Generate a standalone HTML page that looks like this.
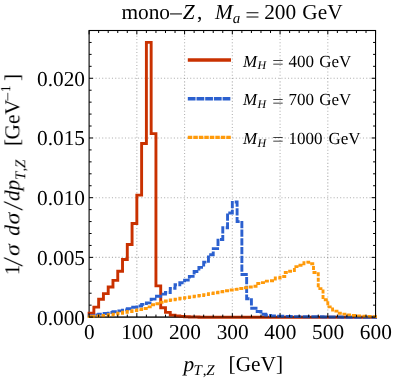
<!DOCTYPE html>
<html><head><meta charset="utf-8"><title>mono-Z</title>
<style>html,body{margin:0;padding:0;background:#fff;}body{width:393px;height:381px;overflow:hidden;font-family:"Liberation Serif",serif;}svg{display:block;}</style>
</head><body>
<svg width="393" height="381" viewBox="0 0 393 381">
<rect width="393" height="381" fill="#fff"/>
<g stroke="#666" stroke-opacity="0.5" stroke-width="1.08" stroke-dasharray="1.09 2.17" fill="none">
<path d="M136.84 317.10V30.50"/>
<path d="M184.58 317.10V30.50"/>
<path d="M232.33 317.10V30.50"/>
<path d="M280.07 317.10V30.50"/>
<path d="M327.81 317.10V30.50"/>
<path d="M89.10 257.39H375.55"/>
<path d="M89.10 197.68H375.55"/>
<path d="M89.10 137.98H375.55"/>
<path d="M89.10 78.27H375.55"/>
</g>
<rect x="89.10" y="30.50" width="286.45" height="286.60" stroke="#000" stroke-width="1.1" fill="none"/>
<g fill="none" stroke-width="2.90" stroke-linejoin="miter" stroke-linecap="square">
<path d="M89.10 313.30L93.87 313.30L93.87 307.10L98.65 307.10L98.65 299.27L103.42 299.27L103.42 293.66L108.20 293.66L108.20 286.97L112.97 286.97L112.97 280.40L117.75 280.40L117.75 271.21L122.52 271.21L122.52 259.50L127.29 259.50L127.29 244.46L132.07 244.46L132.07 223.56L136.84 223.56L136.84 195.14L141.62 195.14L141.62 143.43L146.39 143.43L146.39 42.40L151.16 42.40L151.16 133.64L155.94 133.64L155.94 285.89L160.71 285.89L160.71 307.75L165.49 307.75L165.49 312.40L170.26 312.40L170.26 315.15L175.04 315.15L175.04 315.87L179.81 315.87L179.81 316.34L184.58 316.34L184.58 316.70L189.36 316.70L189.36 316.94L194.13 316.94L194.13 317.06L198.91 317.06L198.91 317.18L203.68 317.18L203.68 317.30L208.45 317.30L208.45 317.30L213.23 317.30L213.23 317.30L218.00 317.30L218.00 317.30L222.78 317.30L222.78 317.30L227.55 317.30L227.55 317.30L232.33 317.30L232.33 317.30L237.10 317.30L237.10 317.30L241.87 317.30L241.87 317.30L246.65 317.30L246.65 317.30L251.42 317.30L251.42 317.30L256.20 317.30L256.20 317.30L260.97 317.30L260.97 317.30L265.74 317.30L265.74 317.30L270.52 317.30L270.52 317.30L275.29 317.30L275.29 317.30L280.07 317.30L280.07 317.30L284.84 317.30L284.84 317.30L289.62 317.30L289.62 317.30L294.39 317.30L294.39 317.30L299.16 317.30L299.16 317.30L303.94 317.30L303.94 317.30L308.71 317.30L308.71 317.30L313.49 317.30L313.49 317.30L318.26 317.30L318.26 317.30L323.03 317.30L323.03 317.30L327.81 317.30L327.81 317.30L332.58 317.30L332.58 317.30L337.36 317.30L337.36 317.30L342.13 317.30L342.13 317.30L346.91 317.30L346.91 317.30L351.68 317.30L351.68 317.30L356.45 317.30L356.45 317.30L361.23 317.30L361.23 317.30L366.00 317.30L366.00 317.30L370.78 317.30L370.78 317.30L375.55 317.30" stroke="#c93100"/>
<path d="M89.10 315.87L93.87 315.87L93.87 314.91L98.65 314.91L98.65 314.08L103.42 314.08L103.42 313.48L108.20 313.48L108.20 312.52L112.97 312.52L112.97 311.69L117.75 311.69L117.75 310.85L122.52 310.85L122.52 309.90L127.29 309.90L127.29 308.82L132.07 308.82L132.07 307.27L136.84 307.27L136.84 305.96L141.62 305.96L141.62 304.40L146.39 304.40L146.39 302.85L151.16 302.85L151.16 299.15L155.94 299.15L155.94 296.28L160.71 296.28L160.71 294.13L165.49 294.13L165.49 292.46L170.26 292.46L170.26 288.40L175.04 288.40L175.04 284.82L179.81 284.82L179.81 282.79L184.58 282.79L184.58 280.16L189.36 280.16L189.36 276.34L194.13 276.34L194.13 271.44L198.91 271.44L198.91 267.38L203.68 267.38L203.68 262.13L208.45 262.13L208.45 254.73L213.23 254.73L213.23 248.64L218.00 248.64L218.00 239.44L222.78 239.44L222.78 227.74L227.55 227.74L227.55 212.93L232.33 212.93L232.33 201.94L237.10 201.94L237.10 221.65L241.87 221.65L241.87 274.43L246.65 274.43L246.65 298.79L251.42 298.79L251.42 308.22L256.20 308.22L256.20 311.45L260.97 311.45L260.97 314.20L265.74 314.20L265.74 315.27L270.52 315.27L270.52 315.87L275.29 315.87L275.29 316.11L280.07 316.11L280.07 316.23L284.84 316.23L284.84 316.34L289.62 316.34L289.62 316.46L294.39 316.46L294.39 316.58L299.16 316.58L299.16 316.58L303.94 316.58L303.94 316.70L308.71 316.70L308.71 316.70L313.49 316.70L313.49 316.82L318.26 316.82L318.26 316.82L323.03 316.82L323.03 316.94L327.81 316.94L327.81 316.94L332.58 316.94L332.58 317.06L337.36 317.06L337.36 317.06L342.13 317.06L342.13 317.18L346.91 317.18L346.91 317.30L351.68 317.30L351.68 317.30L356.45 317.30L356.45 317.30L361.23 317.30L361.23 317.30L366.00 317.30L366.00 317.30L370.78 317.30L370.78 317.30L375.55 317.30" stroke="#2b60cf" stroke-dasharray="4.35 4.35" stroke-dashoffset="0.00"/>
<path d="M89.10 316.58L93.87 316.58L93.87 316.11L98.65 316.11L98.65 315.75L103.42 315.75L103.42 315.39L108.20 315.39L108.20 314.79L112.97 314.79L112.97 314.08L117.75 314.08L117.75 313.24L122.52 313.24L122.52 312.28L127.29 312.28L127.29 311.45L132.07 311.45L132.07 310.61L136.84 310.61L136.84 309.66L141.62 309.66L141.62 308.46L146.39 308.46L146.39 306.91L151.16 306.91L151.16 304.76L155.94 304.76L155.94 303.69L160.71 303.69L160.71 302.25L165.49 302.25L165.49 300.94L170.26 300.94L170.26 299.87L175.04 299.87L175.04 299.15L179.81 299.15L179.81 298.31L184.58 298.31L184.58 297.60L189.36 297.60L189.36 296.88L194.13 296.88L194.13 296.16L198.91 296.16L198.91 295.57L203.68 295.57L203.68 294.61L208.45 294.61L208.45 293.66L213.23 293.66L213.23 292.70L218.00 292.70L218.00 291.74L222.78 291.74L222.78 290.79L227.55 290.79L227.55 289.95L232.33 289.95L232.33 289.36L237.10 289.36L237.10 288.52L241.87 288.52L241.87 287.68L246.65 287.68L246.65 286.97L251.42 286.97L251.42 286.25L256.20 286.25L256.20 283.51L260.97 283.51L260.97 282.67L265.74 282.67L265.74 281.12L270.52 281.12L270.52 280.76L275.29 280.76L275.29 278.01L280.07 278.01L280.07 276.46L284.84 276.46L284.84 272.52L289.62 272.52L289.62 271.21L294.39 271.21L294.39 266.67L299.16 266.67L299.16 265.23L303.94 265.23L303.94 262.13L308.71 262.13L308.71 263.80L313.49 263.80L313.49 272.52L318.26 272.52L318.26 288.64L323.03 288.64L323.03 299.75L327.81 299.75L327.81 306.91L332.58 306.91L332.58 311.09L337.36 311.09L337.36 313.24L342.13 313.24L342.13 314.08L346.91 314.08L346.91 314.91L351.68 314.91L351.68 315.51L356.45 315.51L356.45 315.87L361.23 315.87L361.23 316.11L366.00 316.11L366.00 316.34L370.78 316.34L370.78 316.58L375.55 316.58" stroke="#ff9a0a" stroke-dasharray="1.1 4.4" stroke-dashoffset="-3.70"/>
<path d="M89.10 316.58h1.1" stroke="#ff9a0a"/>
</g>
<path d="M89.10 317.10H375.55" stroke="#000" stroke-opacity="0.5" stroke-width="1.1" fill="none"/>
<g stroke="#000" stroke-width="1" fill="none">
<path d="M89.10 317.10v-3.90"/>
<path d="M89.10 30.50v3.90"/>
<path d="M98.65 317.10v-2.50"/>
<path d="M98.65 30.50v2.50"/>
<path d="M108.20 317.10v-2.50"/>
<path d="M108.20 30.50v2.50"/>
<path d="M117.75 317.10v-2.50"/>
<path d="M117.75 30.50v2.50"/>
<path d="M127.29 317.10v-2.50"/>
<path d="M127.29 30.50v2.50"/>
<path d="M136.84 317.10v-3.90"/>
<path d="M136.84 30.50v3.90"/>
<path d="M146.39 317.10v-2.50"/>
<path d="M146.39 30.50v2.50"/>
<path d="M155.94 317.10v-2.50"/>
<path d="M155.94 30.50v2.50"/>
<path d="M165.49 317.10v-2.50"/>
<path d="M165.49 30.50v2.50"/>
<path d="M175.04 317.10v-2.50"/>
<path d="M175.04 30.50v2.50"/>
<path d="M184.58 317.10v-3.90"/>
<path d="M184.58 30.50v3.90"/>
<path d="M194.13 317.10v-2.50"/>
<path d="M194.13 30.50v2.50"/>
<path d="M203.68 317.10v-2.50"/>
<path d="M203.68 30.50v2.50"/>
<path d="M213.23 317.10v-2.50"/>
<path d="M213.23 30.50v2.50"/>
<path d="M222.78 317.10v-2.50"/>
<path d="M222.78 30.50v2.50"/>
<path d="M232.33 317.10v-3.90"/>
<path d="M232.33 30.50v3.90"/>
<path d="M241.87 317.10v-2.50"/>
<path d="M241.87 30.50v2.50"/>
<path d="M251.42 317.10v-2.50"/>
<path d="M251.42 30.50v2.50"/>
<path d="M260.97 317.10v-2.50"/>
<path d="M260.97 30.50v2.50"/>
<path d="M270.52 317.10v-2.50"/>
<path d="M270.52 30.50v2.50"/>
<path d="M280.07 317.10v-3.90"/>
<path d="M280.07 30.50v3.90"/>
<path d="M289.62 317.10v-2.50"/>
<path d="M289.62 30.50v2.50"/>
<path d="M299.16 317.10v-2.50"/>
<path d="M299.16 30.50v2.50"/>
<path d="M308.71 317.10v-2.50"/>
<path d="M308.71 30.50v2.50"/>
<path d="M318.26 317.10v-2.50"/>
<path d="M318.26 30.50v2.50"/>
<path d="M327.81 317.10v-3.90"/>
<path d="M327.81 30.50v3.90"/>
<path d="M337.36 317.10v-2.50"/>
<path d="M337.36 30.50v2.50"/>
<path d="M346.91 317.10v-2.50"/>
<path d="M346.91 30.50v2.50"/>
<path d="M356.45 317.10v-2.50"/>
<path d="M356.45 30.50v2.50"/>
<path d="M366.00 317.10v-2.50"/>
<path d="M366.00 30.50v2.50"/>
<path d="M375.55 317.10v-3.90"/>
<path d="M375.55 30.50v3.90"/>
<path d="M89.10 317.10h3.90"/>
<path d="M375.55 317.10h-3.90"/>
<path d="M89.10 305.16h2.50"/>
<path d="M375.55 305.16h-2.50"/>
<path d="M89.10 293.22h2.50"/>
<path d="M375.55 293.22h-2.50"/>
<path d="M89.10 281.28h2.50"/>
<path d="M375.55 281.28h-2.50"/>
<path d="M89.10 269.33h2.50"/>
<path d="M375.55 269.33h-2.50"/>
<path d="M89.10 257.39h3.90"/>
<path d="M375.55 257.39h-3.90"/>
<path d="M89.10 245.45h2.50"/>
<path d="M375.55 245.45h-2.50"/>
<path d="M89.10 233.51h2.50"/>
<path d="M375.55 233.51h-2.50"/>
<path d="M89.10 221.57h2.50"/>
<path d="M375.55 221.57h-2.50"/>
<path d="M89.10 209.62h2.50"/>
<path d="M375.55 209.62h-2.50"/>
<path d="M89.10 197.68h3.90"/>
<path d="M375.55 197.68h-3.90"/>
<path d="M89.10 185.74h2.50"/>
<path d="M375.55 185.74h-2.50"/>
<path d="M89.10 173.80h2.50"/>
<path d="M375.55 173.80h-2.50"/>
<path d="M89.10 161.86h2.50"/>
<path d="M375.55 161.86h-2.50"/>
<path d="M89.10 149.92h2.50"/>
<path d="M375.55 149.92h-2.50"/>
<path d="M89.10 137.98h3.90"/>
<path d="M375.55 137.98h-3.90"/>
<path d="M89.10 126.03h2.50"/>
<path d="M375.55 126.03h-2.50"/>
<path d="M89.10 114.09h2.50"/>
<path d="M375.55 114.09h-2.50"/>
<path d="M89.10 102.15h2.50"/>
<path d="M375.55 102.15h-2.50"/>
<path d="M89.10 90.21h2.50"/>
<path d="M375.55 90.21h-2.50"/>
<path d="M89.10 78.27h3.90"/>
<path d="M375.55 78.27h-3.90"/>
<path d="M89.10 66.32h2.50"/>
<path d="M375.55 66.32h-2.50"/>
<path d="M89.10 54.38h2.50"/>
<path d="M375.55 54.38h-2.50"/>
<path d="M89.10 42.44h2.50"/>
<path d="M375.55 42.44h-2.50"/>
<path d="M89.10 30.50h2.50"/>
<path d="M375.55 30.50h-2.50"/>
</g>
<g font-family="Liberation Serif, serif" font-size="21.33" fill="#000" style="text-rendering:geometricPrecision;mix-blend-mode:multiply">
<text x="89.40" y="339.40" text-anchor="middle">0</text>
<text x="137.14" y="339.40" text-anchor="middle">100</text>
<text x="184.88" y="339.40" text-anchor="middle">200</text>
<text x="232.63" y="339.40" text-anchor="middle">300</text>
<text x="280.37" y="339.40" text-anchor="middle">400</text>
<text x="328.11" y="339.40" text-anchor="middle">500</text>
<text x="375.85" y="339.40" text-anchor="middle">600</text>
<text x="85.00" y="324.60" text-anchor="end">0.000</text>
<text x="85.00" y="264.89" text-anchor="end">0.005</text>
<text x="85.00" y="205.18" text-anchor="end">0.010</text>
<text x="85.00" y="145.48" text-anchor="end">0.015</text>
<text x="85.00" y="85.77" text-anchor="end">0.020</text>
<text x="121.45" y="18.80">mono</text>
<text transform="translate(168.70 20.80) scale(1.200 1.000)">−</text>
<text x="182.70" y="18.80" font-style="italic">Z</text>
<text x="196.90" y="18.80">,</text>
<text x="215.10" y="18.80" font-style="italic">M</text>
<text x="232.70" y="23.30" font-style="italic" font-size="15.00">a</text>
<text transform="translate(245.20 21.50) scale(1.200 1.000)">=</text>
<text x="264.20" y="18.80">200</text>
<text x="302.30" y="18.80">GeV</text>
<text x="183.40" y="370.80" font-style="italic">p</text>
<text x="193.40" y="374.50" font-style="italic" font-size="15.00">T</text>
<text x="202.70" y="374.50" font-size="15.00">,</text>
<text x="206.30" y="374.50" font-style="italic" font-size="15.00">Z</text>
<text x="228.60" y="370.80">[GeV]</text>
<g transform="translate(19.3 277) rotate(-90)">
<text x="1.80" y="0.00">1</text>
<text transform="translate(11.47 3.42) scale(1.120 1.290)" font-style="italic">/</text>
<text transform="translate(20.90 0.00) scale(1.120 1.000)" font-style="italic">σ</text>
<text x="41.25" y="0.00" font-style="italic">d</text>
<text transform="translate(52.60 0.00) scale(1.120 1.000)" font-style="italic">σ</text>
<text transform="translate(67.47 3.42) scale(1.120 1.290)" font-style="italic">/</text>
<text x="76.00" y="0.00" font-style="italic">d</text>
<text x="86.60" y="0.00" font-style="italic">p</text>
<text x="96.90" y="6.20" font-style="italic" font-size="15.00">T</text>
<text x="105.40" y="6.20" font-size="15.00">,</text>
<text x="109.00" y="6.20" font-style="italic" font-size="15.00">Z</text>
<text x="131.10" y="0.00">[</text>
<text x="137.50" y="0.00">GeV</text>
<text transform="translate(175.60 -7.50) scale(1.200 1.000)" font-size="14.00">−</text>
<text x="184.80" y="-9.00" font-size="14.00">1</text>
<text x="195.90" y="0.00">]</text>
</g>
</g>
<g fill="none" stroke-width="3.4" stroke-linecap="square">
<path d="M189.5 60H229.3" stroke="#c93100"/>
<path d="M189.5 98.7H229.3" stroke="#2b60cf" stroke-dasharray="4.35 4.35"/>
<path d="M189.5 137.4H229.3" stroke="#ff9a0a" stroke-dasharray="1.1 4.4"/>
</g>
<g font-family="Liberation Serif, serif" font-size="17.00" fill="#000" style="text-rendering:geometricPrecision;mix-blend-mode:multiply">
<text x="243.00" y="66.50" font-style="italic" font-size="17.00">M</text>
<text x="257.45" y="69.20" font-style="italic" font-size="12.00">H</text>
<text transform="translate(272.30 68.00) scale(1.190 1.000)" font-size="17.00">=</text>
<text x="288.40" y="66.50" font-size="17.00">400</text>
<text x="319.25" y="66.50" font-size="17.00">GeV</text>
<text x="243.00" y="105.15" font-style="italic" font-size="17.00">M</text>
<text x="257.45" y="107.85" font-style="italic" font-size="12.00">H</text>
<text transform="translate(272.30 106.65) scale(1.190 1.000)" font-size="17.00">=</text>
<text x="288.40" y="105.15" font-size="17.00">700</text>
<text x="319.25" y="105.15" font-size="17.00">GeV</text>
<text x="243.00" y="143.80" font-style="italic" font-size="17.00">M</text>
<text x="257.45" y="146.50" font-style="italic" font-size="12.00">H</text>
<text transform="translate(272.30 145.30) scale(1.190 1.000)" font-size="17.00">=</text>
<text x="288.40" y="143.80" font-size="17.00">1000</text>
<text x="328.55" y="143.80" font-size="17.00">GeV</text>
</g>
</svg>
</body></html>
